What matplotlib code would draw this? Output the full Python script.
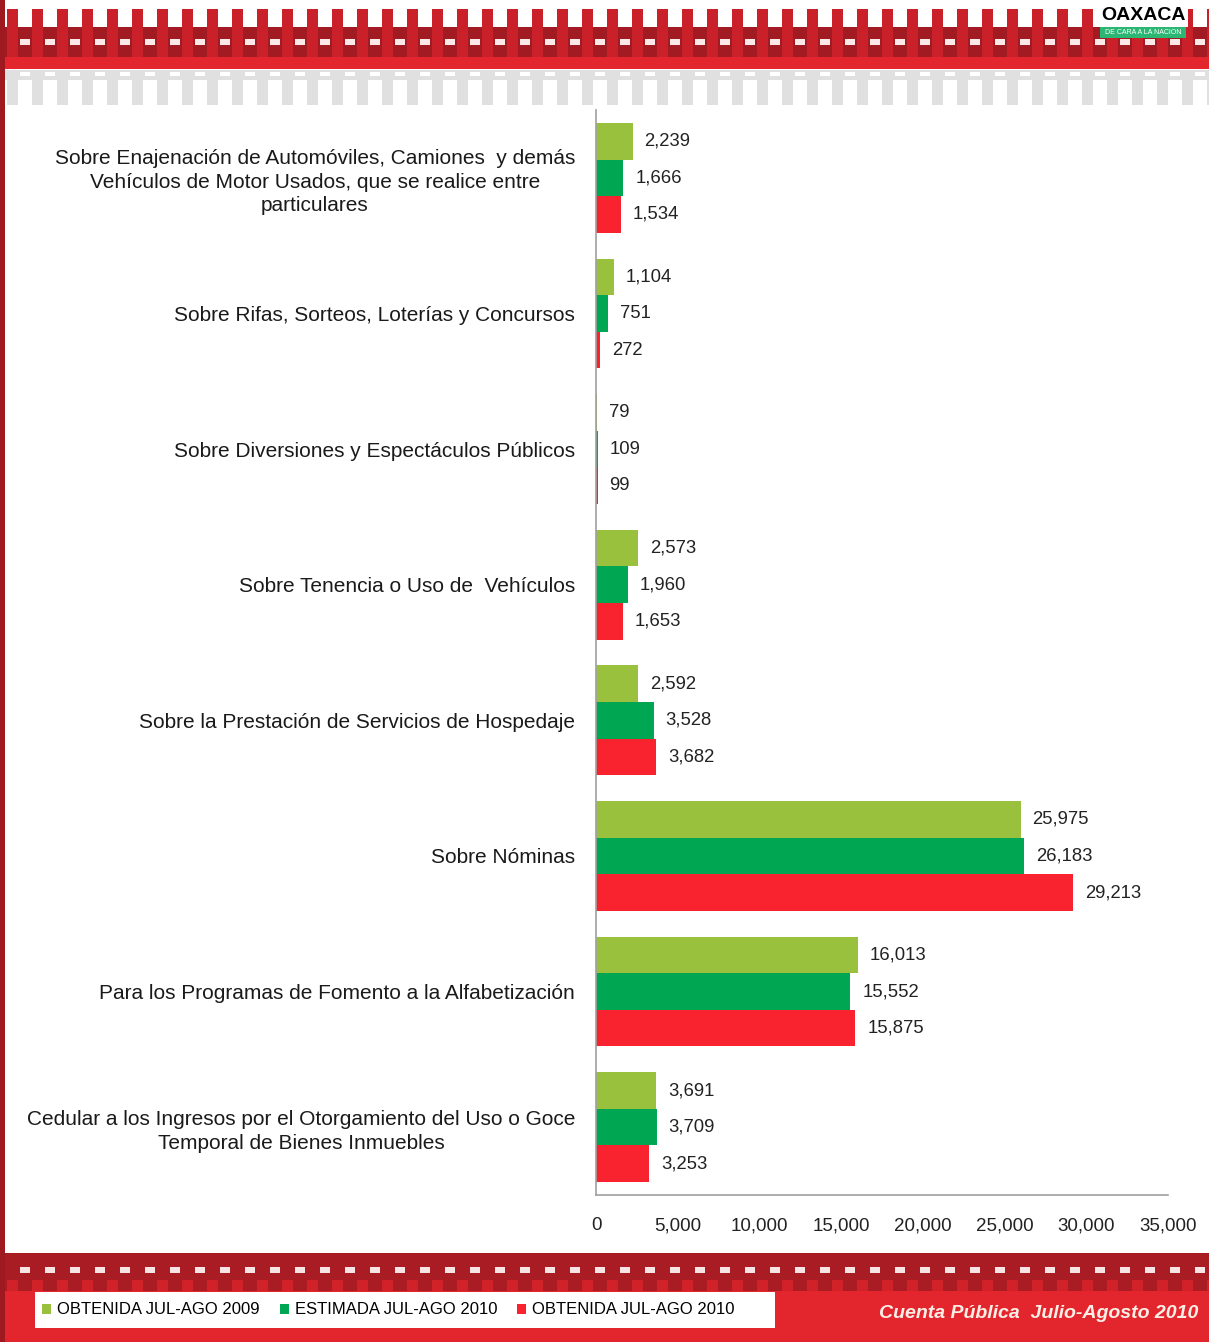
import matplotlib
matplotlib.use('Agg')
import numpy as np
import matplotlib.pyplot as plt
from matplotlib.patches import Rectangle, Patch
from matplotlib.ticker import FuncFormatter

plt.rcParams['font.family'] = ['Liberation Sans', 'DejaVu Sans']

categories = [
    "Sobre Enajenación de Automóviles, Camiones  y demás\nVehículos de Motor Usados, que se realice entre\nparticulares",
    "Sobre Rifas, Sorteos, Loterías y Concursos",
    "Sobre Diversiones y Espectáculos Públicos",
    "Sobre Tenencia o Uso de  Vehículos",
    "Sobre la Prestación de Servicios de Hospedaje",
    "Sobre Nóminas",
    "Para los Programas de Fomento a la Alfabetización",
    "Cedular a los Ingresos por el Otorgamiento del Uso o Goce\nTemporal de Bienes Inmuebles",
]
obtenida_2009 = [2239, 1104, 79, 2573, 2592, 25975, 16013, 3691]
estimada_2010 = [1666, 751, 109, 1960, 3528, 26183, 15552, 3709]
obtenida_2010 = [1534, 272, 99, 1653, 3682, 29213, 15875, 3253]
series_labels = ["OBTENIDA JUL-AGO 2009", "ESTIMADA JUL-AGO 2010", "OBTENIDA JUL-AGO 2010"]
series_colors = ["#9ac13d", "#00a651", "#f9232f"]
xticks = [0, 5000, 10000, 15000, 20000, 25000, 30000, 35000]
footer_text = "Cuenta Pública  Julio-Agosto 2010"

W, H = 1209, 1342
fig = plt.figure(figsize=(W / 100, H / 100), dpi=100)
fig.patch.set_facecolor('white')

# ---------- decorative background (header / footer) ----------
bg = fig.add_axes([0, 0, 1, 1], zorder=-10)
bg.set_xlim(0, W)
bg.set_ylim(H, 0)
bg.axis('off')


def rect(x, y, w, h, c, **kw):
    bg.add_patch(Rectangle((x, y), w, h, facecolor=c, edgecolor='none', **kw))


teeth_x = list(range(7, W, 25))
# header red
rect(0, 27, W, 30, '#a31b22')
for x in teeth_x:
    rect(x, 9, 11, 48, '#c9202a')
for x in teeth_x:
    rect(x + 13, 39, 10, 6, '#fbe9e9')
rect(0, 57, W, 12, '#e3262d')
# header gray
rect(0, 70, W, 10, '#e0e0e0')
for x in teeth_x:
    rect(x, 70, 11, 35, '#e0e0e0')
for x in teeth_x:
    rect(x + 13, 72, 10, 4, 'white')

# logo
rect(1098, 0, 90, 27, 'white')
bg.text(1143, 16, "OAXACA", ha='center', va='center', fontsize=14,
        fontweight='heavy', color='black')
rect(1100, 27, 86, 11, '#2bb673')
bg.text(1143, 32.5, "DE CARA A LA NACION", ha='center', va='center', fontsize=5,
        color='white')

# footer
rect(0, 1253, W, H - 1253, '#e3262d')
rect(0, 1253, W, 38, '#a91c23')
for x in teeth_x:
    rect(x + 13, 1267, 10, 6, '#f8e4e4')
for x in teeth_x:
    rect(x, 1280, 11, 11, '#d22229')
rect(35, 1292, 740, 36, 'white')
bg.text(1198, 1313, footer_text, ha='right', va='center', fontsize=14,
        fontweight='bold', fontstyle='italic', color='#fbeee6')

# left border
rect(0, 0, 5, H, '#9e1a20')

# ---------- chart ----------
ax = fig.add_axes([596 / W, 1 - 1195 / H, (1168 - 596) / W, (1195 - 110) / H])
ax.set_facecolor('none')
n = len(categories)
y = np.arange(n)
h = 0.27
series = [obtenida_2009, estimada_2010, obtenida_2010]
offsets = [-h, 0, h]
for vals, off, col in zip(series, offsets, series_colors):
    ax.barh(y + off, vals, height=h, color=col, edgecolor='none')
    for yy, v in zip(y + off, vals):
        ax.annotate(f"{v:,}", xy=(v, yy), xytext=(12, 0), textcoords='offset pixels',
                    ha='left', va='center', fontsize=13.3, color='#222222')

ax.set_ylim(n - 0.5, -0.5)
ax.set_xlim(0, 35000)
ax.set_xticks(xticks)
ax.xaxis.set_major_formatter(FuncFormatter(lambda v, p: f"{v:,.0f}"))
ax.set_yticks(y)
ax.set_yticklabels(categories, multialignment='center', linespacing=1.3)
ax.tick_params(axis='y', length=0, pad=15, labelsize=15, labelcolor='#1a1a1a')
ax.tick_params(axis='x', length=0, pad=16, labelsize=13.5, labelcolor='#222222')
for s in ['top', 'right']:
    ax.spines[s].set_visible(False)
for s in ['left', 'bottom']:
    ax.spines[s].set_color('#a0a0a0')
    ax.spines[s].set_linewidth(1.2)

# legend
handles = [Patch(facecolor=c, edgecolor='none', label=l) for c, l in zip(series_colors, series_labels)]
fig.legend(handles=handles, loc='center left', bbox_to_anchor=(42 / W, 1 - 1310 / H),
           ncol=3, frameon=False, handlelength=0.55, handleheight=0.55, handletextpad=0.35,
           columnspacing=1.2, borderaxespad=0, borderpad=0,
           prop={'size': 12})

fig.savefig('out.png', dpi=100, facecolor='white')
